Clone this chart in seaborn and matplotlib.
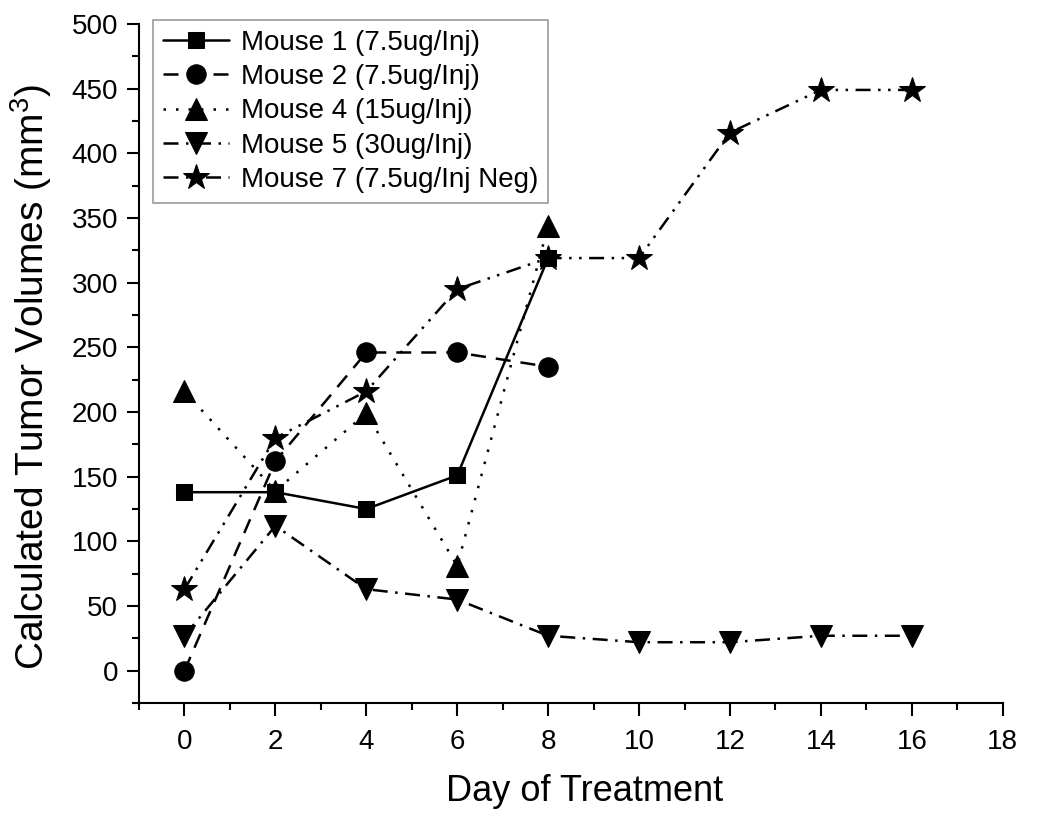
import matplotlib
matplotlib.use("Agg")
import matplotlib.pyplot as plt
import pandas as pd
import seaborn as sns
from matplotlib.ticker import MultipleLocator

OUT_PATH = "out.png"

# Gun ve tumor hacmi verileri (mm^3)
days_short = [0, 2, 4, 6, 8]
days_long = [0, 2, 4, 6, 8, 10, 12, 14, 16]

mouse1 = [138, 138, 125, 151, 319]
mouse2 = [0, 162, 246, 246, 235]
mouse4 = [216, 139, 199, 81, 344]
mouse5 = [27, 112, 63, 55, 27, 22, 22, 27, 27]
mouse7 = [63, 180, 216, 295, 319, 319, 416, 449, 449]

labels = [
    "Mouse 1 (7.5ug/Inj)",
    "Mouse 2 (7.5ug/Inj)",
    "Mouse 4 (15ug/Inj)",
    "Mouse 5 (30ug/Inj)",
    "Mouse 7 (7.5ug/Inj Neg)",
]

x_ticks = [0, 2, 4, 6, 8, 10, 12, 14, 16, 18]
y_ticks = [0, 50, 100, 150, 200, 250, 300, 350, 400, 450, 500]


def build_frame() -> pd.DataFrame:
    parts = []
    for name, days, vals in zip(
        labels,
        [days_short, days_short, days_short, days_long, days_long],
        [mouse1, mouse2, mouse4, mouse5, mouse7],
    ):
        parts.append(pd.DataFrame({"day": days, "volume": vals, "mouse": name}))
    return pd.concat(parts, ignore_index=True)


def plot() -> None:
    sns.set_theme(style="white")
    plt.rcParams["font.family"] = ["Liberation Sans", "DejaVu Sans"]
    plt.rcParams["mathtext.fontset"] = "custom"
    plt.rcParams["mathtext.rm"] = "Liberation Sans"
    plt.rcParams["text.color"] = "black"
    plt.rcParams["axes.labelcolor"] = "black"
    plt.rcParams["xtick.color"] = "black"
    plt.rcParams["ytick.color"] = "black"

    df = build_frame()

    # Origin tarzi cizgi stilleri
    styles = {
        labels[0]: dict(marker="s", markersize=12, dashes=(None, None)),
        labels[1]: dict(marker="o", markersize=14, dashes=(6, 4)),
        labels[2]: dict(marker="^", markersize=16, dashes=(1, 4)),
        labels[3]: dict(marker="v", markersize=16, dashes=(6, 3, 1, 3)),
        labels[4]: dict(marker="*", markersize=19, dashes=(6, 3, 1, 3, 1, 3)),
    }

    fig = plt.figure(figsize=(10.5, 8.15), dpi=100)
    ax = fig.add_axes([0.1324, 0.1374, 0.955 - 0.1324, 0.9706 - 0.1374])

    for name in labels:
        sub = df[df["mouse"] == name]
        st = styles[name]
        sns.lineplot(
            data=sub, x="day", y="volume", ax=ax, color="black",
            marker=st["marker"], markersize=st["markersize"],
            markeredgecolor="black", linewidth=1.8, label=name,
        )
        line = ax.get_lines()[-1]
        if st["dashes"][0] is not None:
            line.set_dashes(st["dashes"])

    ax.set_xlim(-1, 18)
    ax.set_ylim(-25, 500)
    ax.set_xticks(x_ticks)
    ax.set_yticks(y_ticks)
    ax.xaxis.set_minor_locator(MultipleLocator(1))
    ax.yaxis.set_minor_locator(MultipleLocator(25))

    for side in ["top", "right"]:
        ax.spines[side].set_visible(False)
    for side in ["left", "bottom"]:
        ax.spines[side].set_linewidth(1.5)
        ax.spines[side].set_color("black")

    ax.tick_params(which="major", direction="out", length=9, width=1.5,
                   labelsize=20, color="black", left=True, bottom=True)
    ax.tick_params(which="minor", direction="out", length=5, width=1.5,
                   color="black", left=True, bottom=True)
    ax.tick_params(axis="x", which="major", pad=10)
    ax.tick_params(axis="y", which="major", pad=6)

    ax.set_xlabel("Day of Treatment", fontsize=26)
    ax.xaxis.set_label_coords(0.516, -0.105)
    ax.set_ylabel(r"Calculated Tumor Volumes (mm$^{\mathrm{3}}$)", fontsize=28)
    ax.yaxis.set_label_coords(-0.098, 0.48)

    leg = ax.legend(
        loc="upper left", bbox_to_anchor=(14 / 864, 1 + 4 / 679),
        borderaxespad=0, fontsize=20, frameon=True, fancybox=False,
        edgecolor="#808080", handlelength=2.4, labelspacing=0.3,
        handletextpad=0.4, borderpad=0.35,
    )
    leg.get_frame().set_linewidth(1.2)

    fig.savefig(OUT_PATH, dpi=100)
    plt.close(fig)


if __name__ == "__main__":
    plot()
